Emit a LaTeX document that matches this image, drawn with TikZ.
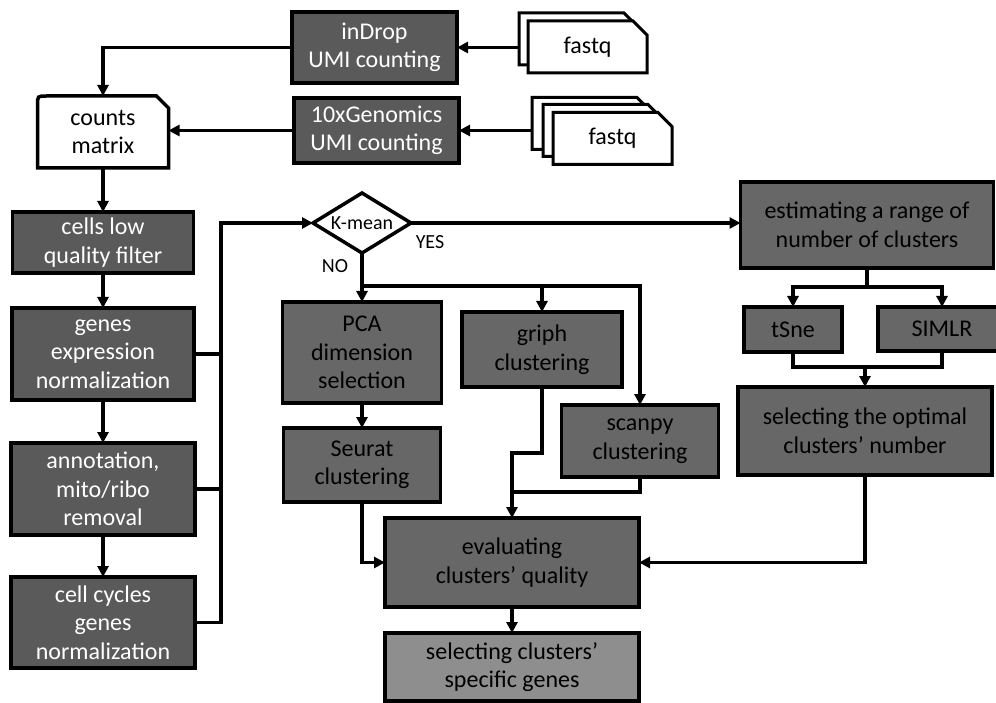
\documentclass[tikz,border=0pt]{standalone}
\usepackage{fontspec}
\setmainfont{Carlito}
\usetikzlibrary{arrows.meta,shapes.geometric,backgrounds}
\definecolor{darkfill}{HTML}{5A5A5A}
\definecolor{midfill}{HTML}{676767}
\definecolor{lightfill}{HTML}{8E8E8E}
\begin{document}
\begin{tikzpicture}[x=1pt,y=-1pt,
  box/.style={draw, line width=3.5pt, rectangle, align=center, inner sep=0pt, outer sep=0pt, font=\fontsize{24}{28.5}\selectfont},
  wbox/.style={box, fill=darkfill, text=white},
  bbox/.style={box, fill=midfill, text=black},
  gbox/.style={box, fill=lightfill, text=black},
  sheet/.style={inner sep=0pt, outer sep=0pt, minimum width=119pt, minimum height=52pt, font=\fontsize{24}{28.5}\selectfont},
  sheetline/.style={draw, line width=3pt, fill=white},
  conn/.style={line width=3.5pt},
  arr/.style={conn, -{Triangle[length=11pt,width=11pt]}},
  lbl/.style={font=\fontsize{20}{24}\selectfont, inner sep=0pt}
]
\useasboundingbox (0,0) rectangle (996,703);

% top row
\node[wbox, minimum width=165pt, minimum height=71pt] (inDrop) at (374.5,47.5) {inDrop\\UMI counting};
\node[wbox, minimum width=165pt, minimum height=65pt] (tenx) at (376.5,130.5) {10xGenomics\\UMI counting};

% fastq stacks
\node[sheet] (fq1b) at (578.5,39) {};
\node[sheet] (fq1) at (587.5,47) {fastq};
\node[sheet] (fq2b) at (591.5,123.5) {};
\node[sheet] (fq2m) at (602.5,130.5) {};
\node[sheet] (fq2) at (612.5,138.5) {fastq};
\begin{scope}[on background layer]
\foreach \s in {fq1b,fq1,fq2b,fq2m,fq2}{
  \draw[sheetline] (\s.south west) -- (\s.north west) -- ([xshift=-14pt]\s.north east) -- ([yshift=-14pt]\s.north east) -- (\s.south east) -- cycle;
}
\end{scope}

% counts matrix
\node[inner sep=0pt, outer sep=0pt, minimum width=131pt, minimum height=72pt, align=center, font=\fontsize{24}{28.5}\selectfont] (counts) at (103,132) {counts\\matrix};
\begin{scope}[on background layer]
\draw[conn, fill=white] (counts.south west) -- ([yshift=-9pt]counts.north west) .. controls (counts.north west) .. ([xshift=9pt]counts.north west) -- ([xshift=-12pt]counts.north east) -- ([yshift=-12pt]counts.north east) -- (counts.south east) -- cycle;
\end{scope}

% left column
\node[wbox, minimum width=181pt, minimum height=61pt] (cells) at (103,242.5) {cells low\\quality filter};
\node[wbox, minimum width=182pt, minimum height=92pt] (genes) at (103,354) {genes\\expression\\normalization};
\node[wbox, minimum width=184pt, minimum height=92pt] (annot) at (103,489) {annotation,\\mito/ribo\\removal};
\node[wbox, minimum width=184pt, minimum height=91pt] (cycles) at (103,622.5) {cell cycles\\genes\\normalization};

% decision
\node[diamond, draw, line width=3.5pt, fill=white, aspect=1.63, minimum width=98pt, minimum height=60pt, inner sep=0pt, outer sep=0pt, font=\fontsize{20}{24}\selectfont] (kmean) at (362,223) {K-mean};
\node[lbl] (yes) at (430,242) {YES};
\node[lbl] (no) at (335,266) {NO};

% middle
\node[bbox, minimum width=159pt, minimum height=101pt] (PCA) at (362,352.5) {PCA\\dimension\\selection};
\node[bbox, minimum width=160pt, minimum height=75pt] (griph) at (542,349.5) {griph\\clustering};
\node[bbox, minimum width=157pt, minimum height=72pt] (scanpy) at (640,441) {scanpy\\clustering};
\node[bbox, minimum width=157pt, minimum height=74pt] (Seurat) at (362,465) {Seurat\\clustering};
\node[bbox, minimum width=254pt, minimum height=89pt] (eval) at (512,562.5) {evaluating\\clusters’ quality};
\node[gbox, minimum width=254pt, minimum height=68pt] (selgenes) at (512,667) {selecting clusters’\\specific genes};

% right
\node[bbox, minimum width=253pt, minimum height=86pt] (estim) at (867,225) {estimating a range of\\number of clusters};
\node[bbox, minimum width=98pt, minimum height=45pt] (tSne) at (793,329.5) {tSne};
\node[bbox, minimum width=128pt, minimum height=44pt] (SIMLR) at (942,329) {SIMLR};
\node[bbox, minimum width=254pt, minimum height=88pt] (selopt) at (865,431) {selecting the optimal\\clusters’ number};

% connectors top
\draw[arr] (fq1b.west |- inDrop.east) -- (inDrop.east);
\draw[arr] (fq2b.west |- tenx.east) -- (tenx.east);
\draw[arr] (inDrop.west) -| (counts.north);
\draw[arr] (tenx.west) -- (counts.east |- tenx.west);

% left column
\draw[arr] (counts.south) -- (cells.north);
\draw[arr] (cells.south) -- (genes.north);
\draw[arr] (genes.south) -- (annot.north);
\draw[arr] (annot.south) -- (cycles.north);
\coordinate (bustop) at (221,223);
\draw[conn] (genes.east) -- (genes.east -| bustop);
\draw[conn] (annot.east) -- (annot.east -| bustop);
\draw[arr] (cycles.east) -| (bustop) -- (kmean.west);

% decision branches
\draw[arr] (kmean.east) -- (estim.west |- kmean.east);
\draw[arr] (kmean.south) -- (PCA.north);
\coordinate (br) at (362,286);
\draw[arr] (br) -| (griph.north);
\draw[arr] (br) -| (scanpy.north);

% middle flows
\draw[arr] (PCA.south) -- (Seurat.north);
\draw[arr] (Seurat.south) |- (eval.west);
\draw[arr] (griph.south) -- ++(0,66) -| (eval.north);
\draw[conn] (scanpy.south) |- (512,492);
\draw[arr] (eval.south) -- (selgenes.north);

% right flows
\draw[conn] (estim.south) -- ++(0,19) coordinate (eb);
\draw[arr] (eb) -| (tSne.north);
\draw[arr] (eb) -| (SIMLR.north);
\draw[conn] (tSne.south) -- ++(0,15) -| (SIMLR.south);
\draw[arr] (selopt.north |- 0,367) -- (selopt.north);
\draw[arr] (selopt.south) |- (eval.east);
\end{tikzpicture}
\end{document}
